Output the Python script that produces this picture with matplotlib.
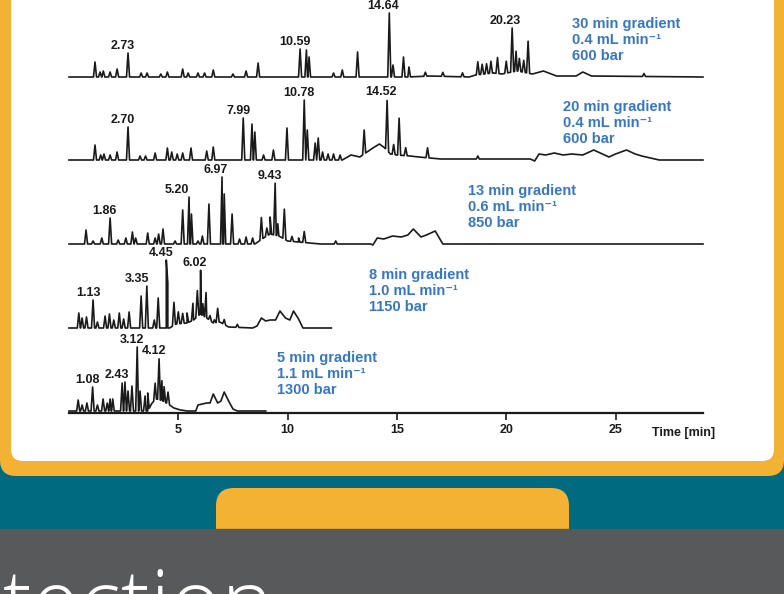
import numpy as np
import matplotlib
matplotlib.use("Agg")
import matplotlib.pyplot as plt
from matplotlib.patches import FancyBboxPatch, Rectangle

# ---- chromatogram data (retention time [min], intensity) ----
# 30 min gradient
p30_t = [1.19, 1.42, 1.57, 1.88, 2.2, 2.70, 3.3, 3.57, 4.2, 4.5, 5.2, 5.45, 5.9, 6.2, 6.6, 7.5,
         8.1, 8.65, 10.57, 10.86, 10.98, 12.1, 12.5, 13.2, 14.65, 14.82, 15.3, 15.55, 16.3, 17.1,
         18.0, 18.7, 18.9, 19.1, 19.3, 19.6, 20.0, 20.27, 20.45, 20.6, 20.8, 21.0, 26.3]
p30_h = [15, 5, 6, 5, 8, 24, 4, 4, 3, 5, 8, 4, 4, 4, 7, 3,
         6, 14, 28, 27, 20, 4, 7, 25, 64, 12, 20, 10, 4, 4,
         4, 13, 10, 10, 12, 16, 12, 44, 20, 13, 12, 32, 3]
b30_t = [0, 15.5, 16.5, 18.3, 18.6, 19.4, 19.8, 20.5, 21.2, 21.7, 22.3, 23.2, 23.5, 23.9, 29]
b30_h = [0, 0, 1, 0, 2, 4, 3, 6, 3, 6, 1, 1, 5, 1, 0]

# 20 min gradient
p20_t = [1.19, 1.45, 1.6, 1.88, 2.2, 2.70, 3.25, 3.5, 3.94, 4.5, 4.7, 4.95, 5.2, 5.58, 6.3, 6.6,
         7.97, 8.37, 8.5, 8.9, 9.35, 9.97, 10.76, 10.9, 11.26, 11.4, 11.6, 11.85, 12.1, 12.4,
         13.5, 14.55, 14.85, 15.1, 15.4, 16.4, 18.7]
p20_h = [15, 5, 6, 5, 8, 33, 4, 4, 7, 12, 8, 6, 7, 12, 9, 13,
         42, 36, 28, 5, 10, 32, 60, 30, 17, 22, 8, 6, 6, 5,
         24, 50, 10, 37, 8, 10, 3]
b20_t = [0, 12.5, 12.9, 13.3, 13.9, 14.2, 14.45, 14.7, 15.0, 15.6, 16.0, 17.0, 18.5, 21.1, 21.3,
         21.5, 21.8, 22.2, 22.6, 23.0, 23.5, 24.0, 24.4, 24.7, 25.0, 25.5, 25.9, 26.2, 26.6, 27.0, 29]
b20_h = [0, 0, 5, 3, 12, 16, 12, 6, 5, 4, 3, 1, 1, 1, -1,
         6, 5, 7, 5, 6, 5, 10, 6, 3, 6, 10, 6, 4, 2, 0, 0]

# 13 min gradient
p13_t = [0.78, 1.1, 1.5, 1.88, 2.25, 2.6, 2.9, 3.05, 3.6, 3.94, 4.1, 4.3, 4.85, 5.2, 5.49, 5.6,
         5.9, 6.1, 6.4, 7.0, 7.1, 7.46, 7.8, 8.1, 8.4, 8.8, 9.05, 9.2, 9.43, 9.55, 9.85, 10.2,
         10.5, 10.76, 12.2]
p13_h = [14, 3, 6, 26, 4, 6, 12, 6, 11, 6, 10, 15, 3, 34, 47, 30,
         3, 8, 40, 67, 50, 30, 5, 7, 6, 22, 8, 17, 52, 12, 30, 5,
         4, 11, 3]
b13_t = [0, 8.5, 8.9, 9.2, 9.6, 10.0, 10.5, 11.0, 11.5, 13.8, 13.9, 14.1, 14.4, 14.8, 15.2,
         15.5, 15.75, 16.1, 16.35, 16.75, 17.1, 29]
b13_h = [0, 0, 6, 10, 8, 3, 2, 1, 0, 0, -1, 6, 5, 8, 7,
         9, 15, 7, 9, 13, 0, 0]

# 8 min gradient
p8_t = [0.45, 0.6, 0.8, 1.1, 1.3, 1.65, 1.85, 2.05, 2.3, 2.5, 2.75, 3.3, 3.56, 3.9, 4.08, 4.45,
        4.52, 4.8, 5.0, 5.2, 5.4, 5.67, 5.87, 6.02, 6.12, 6.27, 6.45, 6.65, 6.8, 7.1, 7.7]
p8_h = [15, 10, 11, 28, 6, 12, 14, 8, 15, 9, 16, 32, 42, 8, 30, 68,
        45, 23, 12, 10, 10, 17, 26, 44, 12, 25, 5, 3, 14, 5, 3]
b8_t = [0, 4.6, 4.9, 5.4, 5.7, 6.0, 6.3, 6.6, 6.9, 7.3, 8.4, 8.6, 8.8, 9.0, 9.2, 9.45, 9.65,
        9.9, 10.1, 10.27, 10.5, 10.7, 12.0]
b8_h = [0, 0, 4, 5, 8, 14, 10, 5, 6, 1, 0, 2, 10, 7, 8, 8, 17,
        10, 8, 17, 9, 0, 0]

# 5 min gradient
p5_t = [0.42, 0.6, 0.82, 1.08, 1.3, 1.56, 1.75, 1.88, 2.0, 2.43, 2.56, 2.7, 2.88, 3.12, 3.25,
        3.48, 3.6, 3.94, 4.12, 4.25, 4.35, 4.53]
p5_h = [11, 6, 8, 24, 6, 12, 8, 12, 12, 28, 29, 20, 25, 64, 20,
        15, 18, 17, 41, 20, 15, 12]
b5_t = [0, 3.6, 3.8, 4.0, 4.3, 4.6, 4.8, 5.1, 5.4, 5.8, 5.9, 6.1, 6.3, 6.45, 6.6, 6.8, 6.95,
        7.1, 7.3, 7.5, 7.7, 9.0]
b5_h = [0, 0, 8, 12, 10, 6, 3, 1, 0, 0, 6, 7, 8, 8, 17, 8, 10,
        19, 10, 2, 0, 0]

traces = [
    (p30_t, p30_h, b30_t, b30_h, 336, ["2.73", "10.59", "14.64", "20.23"],
     "30 min gradient\n0.4 mL min\u207b\u00b9\n600 bar", 23.0),
    (p20_t, p20_h, b20_t, b20_h, 253, ["2.70", "7.99", "10.78", "14.52"],
     "20 min gradient\n0.4 mL min\u207b\u00b9\n600 bar", 22.6),
    (p13_t, p13_h, b13_t, b13_h, 169, ["1.86", "5.20", "6.97", "9.43"],
     "13 min gradient\n0.6 mL min\u207b\u00b9\n850 bar", 18.25),
    (p8_t, p8_h, b8_t, b8_h, 85, ["1.13", "3.35", "4.45", "6.02"],
     "8 min gradient\n1.0 mL min\u207b\u00b9\n1150 bar", 13.7),
    (p5_t, p5_h, b5_t, b5_h, 2, ["1.08", "2.43", "3.12", "4.12"],
     "5 min gradient\n1.1 mL min\u207b\u00b9\n1300 bar", 9.5),
]

ORANGE = "#F4B234"
TEAL = "#006A80"
GREY = "#58595B"
BLUE = "#3777C2"
FONT = ["Liberation Sans", "DejaVu Sans"]

plt.rcParams["font.family"] = FONT

fig = plt.figure(figsize=(7.84, 5.94), dpi=100)

# ---- background layout (pixel coordinates) ----
bg = fig.add_axes([0, 0, 1, 1])
bg.set_xlim(0, 784)
bg.set_ylim(594, 0)
bg.axis("off")
bg.add_patch(Rectangle((0, 0), 784, 594, color=TEAL, zorder=0))
bg.add_patch(FancyBboxPatch((0, -40), 784, 516, boxstyle="round,pad=0,rounding_size=16",
                            fc=ORANGE, ec="none", zorder=1))
bg.add_patch(FancyBboxPatch((11, -40), 763, 501, boxstyle="round,pad=0,rounding_size=12",
                            fc="white", ec="none", zorder=2))
bg.add_patch(FancyBboxPatch((216, 488), 353, 80, boxstyle="round,pad=0,rounding_size=18",
                            fc=ORANGE, ec="none", zorder=1))
bg.add_patch(Rectangle((0, 529), 784, 70, color=GREY, zorder=3))
bg.text(3, 633, "tection", color="white", fontsize=63, family=["Open Sans", "DejaVu Sans"],
        fontweight="light", va="baseline", ha="left", zorder=4)

# ---- chromatograms ----
ax = fig.add_axes([69 / 784, (594 - 413) / 594, 634 / 784, 413 / 594])
ax.set_facecolor("none")
ax.set_xlim(0, 29)
ax.set_ylim(0, 413)

w = 0.07  # half width of a peak drawn as a spike
for pt, ph, bt, bh, off, labels, info, info_x in traces:
    pt = np.array(pt)
    ph = np.array(ph)
    xs = np.concatenate([bt, pt - w, pt, pt + w])
    ys = np.concatenate([np.zeros(len(bt)), np.zeros(len(pt)), ph, np.zeros(len(pt))])
    order = np.argsort(xs, kind="stable")
    xs = xs[order]
    ys = ys[order] + np.interp(xs, bt, bh)
    ax.plot(xs, ys + off, color="#1a1a1a", lw=1.2, clip_on=False)

    for lab in labels:
        t = float(lab)
        near = np.abs(pt - t) <= 0.3
        top = ph[near].max() + np.interp(t, bt, bh)
        ax.annotate(lab, (t, top + off), xytext=(-4, 1), textcoords="offset points",
                    ha="center", va="bottom", fontsize=9, fontweight="bold",
                    color="#1a1a1a", annotation_clip=False)

    ax.text(info_x, off + 37, info, color=BLUE, fontsize=10.5, fontweight="bold",
            ha="left", va="center", linespacing=1.2)

for s in ["left", "top", "right"]:
    ax.spines[s].set_visible(False)
ax.spines["bottom"].set_linewidth(1.6)
ax.spines["bottom"].set_color("#1a1a1a")
ax.set_yticks([])
ax.set_xticks([5, 10, 15, 20, 25])
ax.tick_params(axis="x", direction="out", length=5, width=1.2, pad=3, colors="#1a1a1a")
for lab in ax.get_xticklabels():
    lab.set_fontsize(9)
    lab.set_fontweight("bold")
ax.text(28.1, -20, "Time [min]", fontsize=9, fontweight="bold", ha="center", va="center",
        color="#1a1a1a")

fig.savefig("out.png", dpi=100)
